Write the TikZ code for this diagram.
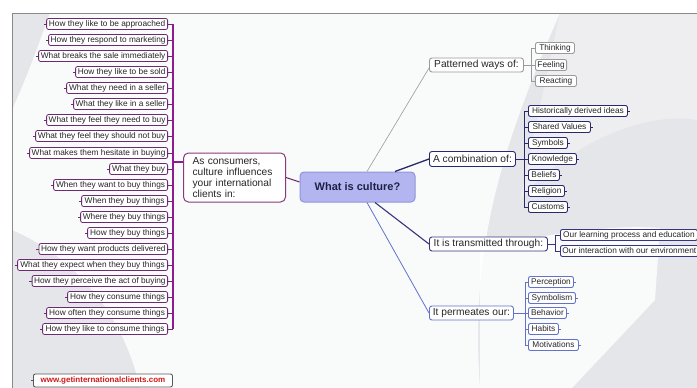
\documentclass[tikz,border=0pt]{standalone}
\usepackage{fontspec}
\setmainfont{Liberation Sans}
\definecolor{txt}{HTML}{262626}
\definecolor{bggray}{HTML}{E5E6EA}
\definecolor{frame}{HTML}{8A8A8A}
\definecolor{lpur}{HTML}{6E2A6E}
\definecolor{lbarc}{HTML}{8E1C8E}
\definecolor{ascb}{HTML}{8A3A7C}
\definecolor{ctrfill}{HTML}{B3B5F1}
\definecolor{ctrdraw}{HTML}{9195D6}
\definecolor{patc}{HTML}{9A9A9A}
\definecolor{comc}{HTML}{28286A}
\definecolor{trac}{HTML}{36367E}
\definecolor{perc}{HTML}{6272CC}
\definecolor{webred}{HTML}{D01818}
\begin{document}
\begin{tikzpicture}[x=1pt,y=-1pt,
  every node/.style={text=txt},
  litem/.style={draw=lpur, line width=0.8pt, fill=white, rounded corners=2pt, inner xsep=2pt, inner ysep=0pt, minimum height=11pt, anchor=east, font=\fontsize{8.3}{9}\selectfont},
  lcon/.style={draw=lpur, line width=0.8pt},
  lbarst/.style={draw=lbarc, line width=1.3pt},
  mid/.style={line width=0.9pt, fill=white, rounded corners=2.5pt, inner xsep=3pt, inner ysep=0pt, minimum height=14pt, anchor=west, font=\fontsize{10.2}{11}\selectfont},
  kid/.style={line width=0.9pt, fill=white, rounded corners=2pt, inner xsep=2pt, inner ysep=0pt, minimum height=11pt, anchor=west, font=\fontsize{8.3}{9}\selectfont}
]
\useasboundingbox (0,0) rectangle (697,388);
% background
\fill[white] (0,0) rectangle (697,388);
\fill[bggray] (12,13) rectangle (697,388);
\fill[white, opacity=0.8] (50,13) -- (560,13) .. controls (500,150) and (470,250) .. (480,388) -- (140,388) .. controls (120,300) and (60,250) .. (12,230) -- (12,110) .. controls (30,70) and (40,40) .. (50,13) -- cycle;
\fill[white, opacity=0.8] (480,250) .. controls (560,230) and (620,225) .. (660,228) -- (655,300) -- (572,388) -- (480,388) -- cycle;
\fill[white, opacity=0.35] (560,13) -- (697,13) -- (697,120) .. controls (640,110) and (560,150) .. (520,200) -- cycle;
\draw[frame, line width=0.8pt] (12,388) -- (12,13) -- (697,13);

% center and left hub
\node[draw=ctrdraw, line width=1pt, fill=ctrfill, rounded corners=4pt, minimum width=115pt, minimum height=30pt, inner sep=0pt, font=\fontsize{11}{13}\selectfont\bfseries, text=txt!85!blue] (ctr) at (357.5,187) {What is culture?};
\node[draw=ascb, line width=1pt, fill=white, rounded corners=5pt, anchor=west, text width=84pt, inner xsep=9pt, inner ysep=0pt, minimum height=49pt, align=left, font=\fontsize{10.2}{10.7}\selectfont] (asc) at (183,177.5) {As consumers,\\culture influences\\your international\\clients in:};
\draw[draw=lpur, line width=1pt] (asc.east) -- ([yshift=5pt]ctr.west);

% left items
\coordinate (lbar) at (173,162);
\foreach \i/\y/\w/\t in {
 1/24/121/How they like to be approached,
 2/40/119/How they respond to marketing,
 3/56/129/What breaks the sale immediately,
 4/72/92/How they like to be sold,
 5/88/101/What they need in a seller,
 6/104/94/What they like in a seller,
 7/120/121/What they feel they need to buy,
 8/136/132/What they feel they should not buy,
 9/153/138/What makes them hesitate in buying,
 10/169/58/What they buy,
 11/185/114/When they want to buy things,
 12/201/86/When they buy things,
 13/217/87/Where they buy things,
 14/233/80/How they buy things,
 15/249/128/How they want products delivered,
 16/265/150/What they expect when they buy things,
 17/281/135/How they perceive the act of buying,
 18/297/100/How they consume things,
 19/313/121/How often they consume things,
 20/329/125/How they like to consume things}{
  \node[litem, minimum width=\w pt] (l\i) at (168,\y) {\t};
  \draw[lcon] (l\i.east) -- (l\i.east -| lbar);
  \draw[lcon] (l\i.west) -- ++(-2.5,0);
}
\draw[lbarst] (l1.east -| lbar) -- (l20.east -| lbar);
\draw[lbarst] (lbar) -- (lbar -| asc.west);

% Patterned ways of
\node[mid, draw=patc, minimum width=94pt] (pat) at (429,65) {Patterned ways of:};
\draw[patc, line width=0.6pt] ([xshift=9.5pt]ctr.north) -- ([yshift=-3pt]pat.west);
\coordinate (pb) at (531,65);
\draw[patc, line width=0.8pt] (pat.east) -- (pb);
\foreach \n/\y/\w/\t in {th/48/39/Thinking, fe/65/31/Feeling, re/81/41/Reacting}{
  \node[kid, draw=patc, minimum width=\w pt] (\n) at (535,\y) {\t};
  \draw[patc, line width=0.8pt] (\n.west) -- (\n.west -| pb);
}
\draw[patc, line width=0.8pt] (th.west -| pb) -- (re.west -| pb);

% A combination of
\node[mid, draw=comc, minimum width=86pt, minimum height=15pt] (com) at (429,159) {A combination of:};
\draw[comc, line width=1.3pt] ([xshift=37.5pt]ctr.north) -- (com.west);
\coordinate (cb) at (524,159);
\draw[comc, line width=1pt] (com.east) -- (cb);
\foreach \n/\y/\w/\t in {c1/111/99/Historically derived ideas, c2/127/62/Shared Values, c3/143/39/Symbols, c4/159/48/Knowledge, c5/175/31/Beliefs, c6/191/36/Religion, c7/207/39/Customs}{
  \node[kid, draw=comc, minimum width=\w pt] (\n) at (528,\y) {\t};
  \draw[comc, line width=0.9pt] (\n.west) -- (\n.west -| cb);
  \draw[comc, line width=0.9pt] (\n.east) -- ++(2.5,0);
}
\draw[comc, line width=1pt] (c1.west -| cb) -- (c7.west -| cb);

% It is transmitted through
\node[mid, draw=trac, minimum width=118pt] (tra) at (429,244) {It is transmitted through:};
\draw[trac, line width=1.1pt] ([xshift=17.5pt]ctr.south) -- (tra.west);
\coordinate (tb) at (555,244);
\draw[trac, line width=1pt] (tra.east) -- (tb);
\foreach \n/\y/\t in {t1/235/Our learning process and education, t2/251/Our interaction with our environment}{
  \node[kid, draw=trac, minimum width=137pt] (\n) at (560,\y) {\t};
  \draw[trac, line width=0.9pt] (\n.west) -- (\n.west -| tb);
}
\draw[trac, line width=1pt] (t1.west -| tb) -- (t2.west -| tb);

% It permeates our
\node[mid, draw=perc, minimum width=84pt] (per) at (429,313) {It permeates our:};
\draw[perc, line width=0.8pt] ([xshift=9.5pt]ctr.south) -- (per.west);
\coordinate (qb) at (525,313);
\draw[perc, line width=0.9pt] (per.east) -- (qb);
\foreach \n/\y/\w/\t in {p1/282/45/Perception, p2/298/47/Symbolism, p3/313/38/Behavior, p4/329/30/Habits, p5/345/50/Motivations}{
  \node[kid, draw=perc, minimum width=\w pt] (\n) at (528,\y) {\t};
  \draw[perc, line width=0.8pt] (\n.west) -- (\n.west -| qb);
  \draw[perc, line width=0.8pt] (\n.east) -- ++(2.5,0);
}
\draw[perc, line width=0.9pt] (p1.west -| qb) -- (p5.west -| qb);

% website
\node[draw=black!65, line width=0.9pt, fill=white, rounded corners=2pt, anchor=west, minimum width=139pt, minimum height=13pt, inner sep=0pt, font=\fontsize{8}{9}\selectfont\bfseries, text=webred] (web) at (33,380.5) {www.getinternationalclients.com};
\draw[black!65, line width=0.8pt] (web.west) -- ++(-2.5,0);
\end{tikzpicture}
\end{document}
